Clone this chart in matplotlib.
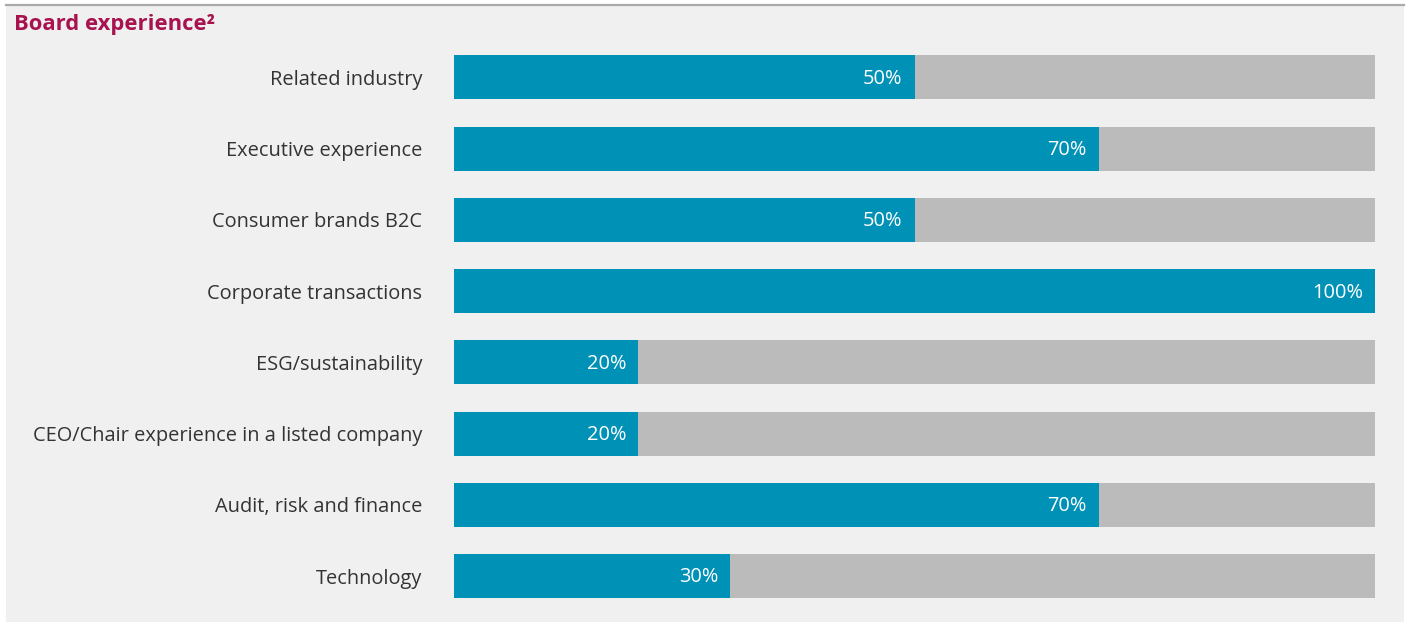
import matplotlib
matplotlib.use('Agg')
import matplotlib.pyplot as plt
from matplotlib.patches import Rectangle
from matplotlib.lines import Line2D

plt.rcParams['font.family'] = ['Open Sans', 'DejaVu Sans']

categories = ['Related industry', 'Executive experience', 'Consumer brands B2C',
              'Corporate transactions', 'ESG/sustainability',
              'CEO/Chair experience in a listed company',
              'Audit, risk and finance', 'Technology']
shares = [50, 70, 50, 100, 20, 20, 70, 30]
total = 100

W, H = 1410, 625
fig = plt.figure(figsize=(W / 100, H / 100), dpi=100)
fig.patch.set_facecolor('white')

# light panel behind everything plus the rule along its top
fig.add_artist(Rectangle((6 / W, 1 - 622 / H), 1398 / W, 616 / H,
                         transform=fig.transFigure, facecolor='#f0f0f0',
                         edgecolor='none', zorder=0))
fig.add_artist(Line2D([6 / W, 1404 / W], [1 - 5 / H, 1 - 5 / H],
                      transform=fig.transFigure, color='#aaaaaa', lw=1.6))

fig.text(14 / W, 1 - 30 / H, 'Board experience\u00b2', color='#a8124f',
         fontsize=15.8, fontweight='bold', va='baseline', ha='left')

pitch = 71.3
top = 77.5 - pitch / 2
bottom = 576 + pitch / 2
ax = fig.add_axes([454 / W, 1 - bottom / H, (1375 - 454) / W, (bottom - top) / H])
ax.set_facecolor('none')

ypos = list(range(len(categories)))
bh = 44 / pitch
ax.barh(ypos, [total] * len(ypos), height=bh, color='#bbbbbb', zorder=1)
ax.barh(ypos, shares, height=bh, color='#0091b7', zorder=2)

for y, v in zip(ypos, shares):
    ax.text(v - 1.3, y + 0.02, f'{v}%', color='white', fontsize=14.4, ha='right',
            va='center', fontweight='medium', zorder=3)

ax.set_xlim(0, total)
ax.set_ylim(len(categories) - 0.5, -0.5)
ax.set_yticks(ypos)
ax.set_yticklabels(categories, fontsize=14.4, color='#333333')
ax.tick_params(axis='y', length=0, pad=23)
ax.set_xticks([])
for s in ax.spines.values():
    s.set_visible(False)

fig.savefig('out.png', dpi=100)
plt.close(fig)
